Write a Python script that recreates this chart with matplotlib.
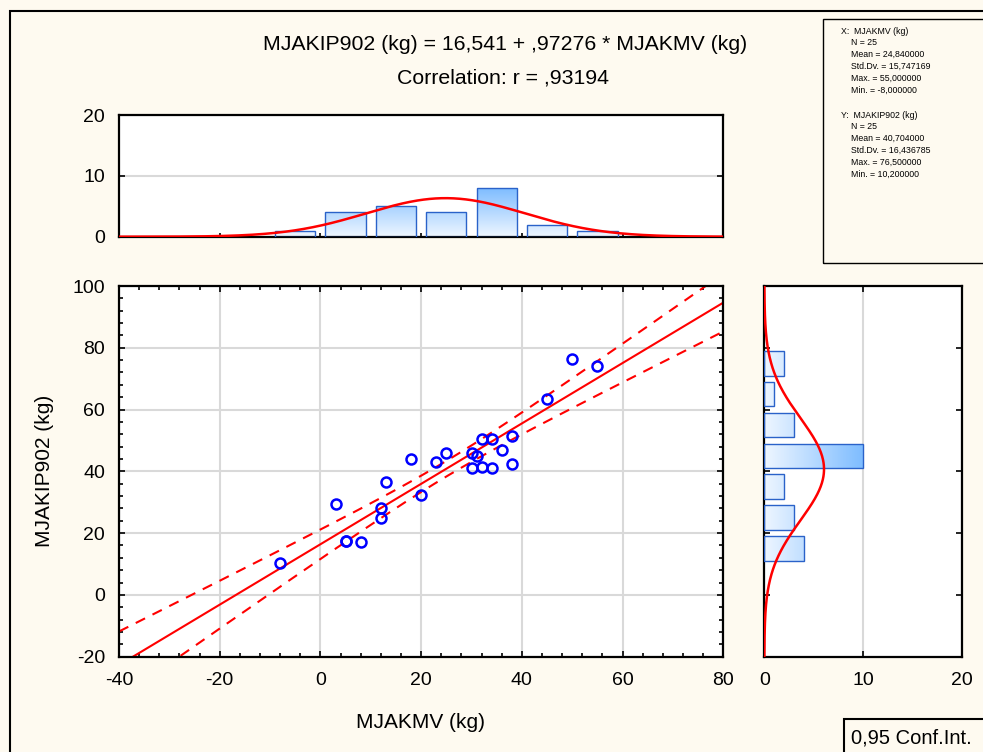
import numpy as np
import pandas as pd
import matplotlib
matplotlib.use('Agg')
import matplotlib.pyplot as plt
from matplotlib.patches import Rectangle
from matplotlib.colors import LinearSegmentedColormap
from matplotlib.ticker import MultipleLocator

plt.rcParams['font.family'] = ['Liberation Sans', 'DejaVu Sans']
plt.rcParams['axes.unicode_minus'] = False

# data
mjakmv = [-8, 3, 5, 5, 8, 12, 12, 13, 18, 20, 23, 25, 30, 30, 31,
          32, 32, 34, 34, 36, 38, 38, 45, 50, 55]
mjakip902 = [10.2, 29.5, 17.5, 17.5, 17, 28, 25, 36.5, 44, 32.5, 43, 46, 46, 41, 45,
             50.5, 41.5, 50.5, 41, 47, 51.5, 42.5, 63.5, 76.5, 74]

x_edges = np.arange(-10, 61, 10)
y_edges = np.arange(10, 81, 10)
t_crit = 2.0687  # t(0.975, df=23)

eq_text = 'MJAKIP902 (kg) = 16,541 + ,97276 * MJAKMV (kg)'
corr_text = 'Correlation: r = ,93194'
stats_x = ['X:  MJAKMV (kg)', 'N = 25', 'Mean = 24,840000', 'Std.Dv. = 15,747169',
           'Max. = 55,000000', 'Min. = -8,000000']
stats_y = ['Y:  MJAKIP902 (kg)', 'N = 25', 'Mean = 40,704000', 'Std.Dv. = 16,436785',
           'Max. = 76,500000', 'Min. = 10,200000']

BG = '#FEFAF0'
GRID = '#D9D9D9'
EDGE = '#2A62C9'
W, H = 983, 752
TICK_FS = 14
cmap = LinearSegmentedColormap.from_list('bars', ['#EEF6FF', '#7FBDFF'])


def box(l, t, r, b):
    return [l / W, 1 - b / H, (r - l) / W, (b - t) / H]


fig = plt.figure(figsize=(9.83, 7.52), dpi=100, facecolor=BG)
ax = fig.add_axes(box(119, 286, 723.3, 656.7))
ax_top = fig.add_axes(box(119, 115, 723.3, 236.7))
ax_r = fig.add_axes(box(764.3, 286, 962, 656.7))

x = np.array(mjakmv, dtype=float)
y = np.array(mjakip902, dtype=float)
n = len(x)

# --- scatter with regression and 95% band
b, a = np.polyfit(x, y, 1)
xs = np.linspace(-40, 80, 300)
fit = a + b * xs
s = np.sqrt(np.sum((y - (a + b * x)) ** 2) / (n - 2))
sxx = np.sum((x - x.mean()) ** 2)
half = t_crit * s * np.sqrt(1 / n + (xs - x.mean()) ** 2 / sxx)

ax.plot(xs, fit, color='red', lw=1.5)
ax.plot(xs, fit + half, color='red', lw=1.5, dashes=(5, 4))
ax.plot(xs, fit - half, color='red', lw=1.5, dashes=(5, 4))
ax.plot(x, y, 'o', mfc='none', mec='blue', ms=7.2, mew=1.8, zorder=5)
ax.set_xlim(-40, 80)
ax.set_ylim(-20, 100)
ax.xaxis.set_major_locator(MultipleLocator(20))
ax.xaxis.set_minor_locator(MultipleLocator(4))
ax.yaxis.set_major_locator(MultipleLocator(20))
ax.yaxis.set_minor_locator(MultipleLocator(4))
ax.grid(True, which='major', color=GRID, lw=1.5)
ax.set_axisbelow(True)
ax.tick_params(which='both', direction='in', top=True, right=True, labelsize=TICK_FS, width=1.2)
ax.tick_params(which='major', length=4)
ax.tick_params(which='minor', length=3)
ax.tick_params(axis='x', pad=11)
ax.tick_params(axis='y', pad=10)


def normal(v, vals, width):
    m, sd = vals.mean(), vals.std(ddof=1)
    return len(vals) * width / (sd * np.sqrt(2 * np.pi)) * np.exp(-0.5 * ((v - m) / sd) ** 2)


# --- top histogram (x)
cx = np.bincount(pd.cut(x, x_edges, labels=False), minlength=len(x_edges) - 1)
vmax = cx.max()
for lo, c in zip(x_edges[:-1], cx):
    if c == 0:
        continue
    ctr = lo + 5
    im = ax_top.imshow(np.linspace(0, c / vmax, 64).reshape(-1, 1), extent=(ctr - 4, ctr + 4, 0, c),
                       origin='lower', aspect='auto', cmap=cmap, vmin=0, vmax=1, zorder=2)
    rect = Rectangle((ctr - 4, 0), 8, c, fill=False, ec=EDGE, lw=1, zorder=3)
    ax_top.add_patch(rect)
    im.set_clip_path(rect)
xx = np.linspace(-40, 80, 400)
ax_top.plot(xx, normal(xx, x, 10), color='red', lw=1.8, zorder=4)
ax_top.set_xlim(-40, 80)
ax_top.set_ylim(0, 20)
ax_top.set_yticks([0, 10, 20])
ax_top.set_xticks([-20, 0, 20, 40, 60])
ax_top.grid(True, axis='y', color=GRID, lw=1.5)
ax_top.set_axisbelow(True)
ax_top.tick_params(axis='x', direction='in', length=3, width=1.2, labelbottom=False)
ax_top.tick_params(axis='y', direction='in', length=4, width=1.2, right=True, labelsize=TICK_FS, pad=10)

# --- right histogram (y)
cy = np.bincount(pd.cut(y, y_edges, labels=False), minlength=len(y_edges) - 1)
vmax = cy.max()
for lo, c in zip(y_edges[:-1], cy):
    if c == 0:
        continue
    ctr = lo + 5
    im = ax_r.imshow(np.linspace(0, c / vmax, 64).reshape(1, -1), extent=(0, c, ctr - 4, ctr + 4),
                     origin='lower', aspect='auto', cmap=cmap, vmin=0, vmax=1, zorder=2)
    rect = Rectangle((0, ctr - 4), c, 8, fill=False, ec=EDGE, lw=1, zorder=3)
    ax_r.add_patch(rect)
    im.set_clip_path(rect)
yy = np.linspace(-20, 100, 400)
ax_r.plot(normal(yy, y, 10), yy, color='red', lw=1.8, zorder=4)
ax_r.set_xlim(0, 20)
ax_r.set_ylim(-20, 100)
ax_r.set_xticks([0, 10, 20])
ax_r.set_yticks([0, 20, 40, 60, 80])
ax_r.grid(True, axis='x', color=GRID, lw=1.5)
ax_r.set_axisbelow(True)
ax_r.tick_params(axis='y', direction='in', length=4, width=1.2, right=True, labelleft=False)
ax_r.tick_params(axis='x', direction='in', length=4, width=1.2, top=True, labelsize=TICK_FS, pad=11)

for a_ in (ax, ax_top, ax_r):
    for sp in a_.spines.values():
        sp.set_linewidth(1.6)

# --- texts
fig.text(505 / W, 1 - 45 / H, eq_text, ha='center', va='center', fontsize=15.3)
fig.text(503 / W, 1 - 78.5 / H, corr_text, ha='center', va='center', fontsize=15.3)
fig.text(421 / W, 1 - 722 / H, 'MJAKMV (kg)', ha='center', va='center', fontsize=15)
fig.text(45 / W, 1 - 471 / H, 'MJAKIP902 (kg)', ha='center', va='center', rotation=90, fontsize=15)

# stats box
fig.add_artist(Rectangle((823 / W, 1 - 263 / H), (995 - 823) / W, (263 - 19) / H,
                         transform=fig.transFigure, fill=False, ec='black', lw=1))
for block, top in ((stats_x, 31), (stats_y, 115)):
    for i, line in enumerate(block):
        fig.text((840.7 if i == 0 else 851) / W, 1 - (top + i * 11.8) / H, line,
                 ha='left', va='center', fontsize=6.3)

# conf. int. legend box
fig.add_artist(Rectangle((844 / W, 1 - 765 / H), (995 - 844) / W, (765 - 719) / H,
                         transform=fig.transFigure, fill=False, ec='black', lw=1.5))
fig.text(850.7 / W, 1 - 738 / H, '0,95 Conf.Int.', ha='left', va='center', fontsize=14.5)

# outer frame
fig.add_artist(Rectangle((10 / W, 1 - 765 / H), (995 - 10) / W, (765 - 11) / H,
                         transform=fig.transFigure, fill=False, ec='black', lw=1.5))

fig.savefig('out.png', dpi=100, facecolor=BG)
